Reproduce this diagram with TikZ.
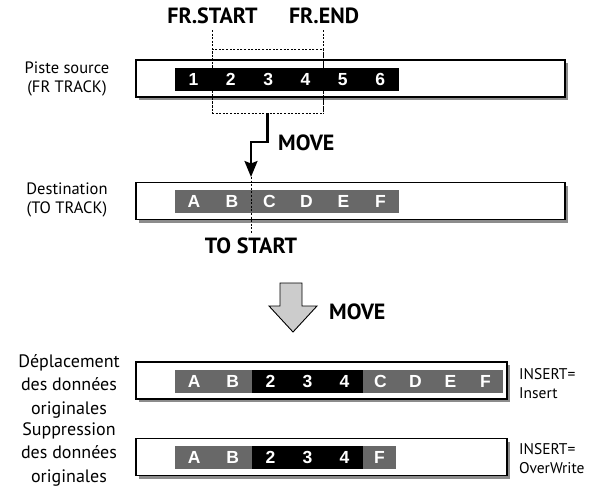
\documentclass[tikz,border=0pt]{standalone}
\usepackage{fontspec}
\setmainfont{PT Sans}
\newfontfamily\cellfont{Liberation Sans}
\usetikzlibrary{shadows,arrows.meta}
\definecolor{bargray}{RGB}{104,104,104}
\definecolor{shadowgray}{RGB}{140,140,140}
\definecolor{blockgray}{RGB}{204,204,204}
\begin{document}
\begin{tikzpicture}[x=1pt,y=-1pt,
  trackbox/.style={draw=black, line width=1.6pt, fill=white, minimum height=37pt,
    inner sep=0pt, outer sep=0pt,
    drop shadow={shadow xshift=3pt, shadow yshift=-3pt, fill=shadowgray, opacity=1}},
  cell/.style={minimum height=23pt, inner sep=0pt, outer sep=0pt, text=white,
    font=\cellfont\bfseries\fontsize{17.5}{17.5}\selectfont},
  blk/.style={cell, fill=black},
  gry/.style={cell, fill=bargray},
  marker/.style={draw=black, line width=0.8pt, dash pattern=on 2pt off 1.6pt},
  movearrow/.style={draw=black, line width=2.2pt,
    -{Stealth[length=16pt, width=13pt, inset=2.5pt]}},
  lbl/.style={align=center, inner sep=0pt, font=\fontsize{16.5}{18.5}\selectfont},
  biglbl/.style={align=center, inner sep=0pt, font=\fontsize{18}{23.5}\selectfont},
  rlbl/.style={align=left, anchor=west, inner sep=0pt, font=\fontsize{15.5}{19}\selectfont},
  key/.style={inner sep=0pt, font=\bfseries\fontsize{22}{22}\selectfont},
]
\useasboundingbox (0,0) rectangle (608,488);

% track frames
\node[trackbox, minimum width=429pt] (src) at (350.5,78.5) {};
\node[trackbox, minimum width=429pt] (dst) at (350.5,201) {};
\node[trackbox, minimum width=371pt] (ins) at (321.5,380.5) {};
\node[trackbox, minimum width=371pt] (ovw) at (321.5,457) {};

% source data blocks
\foreach \n/\a/\b/\t/\s in {1/175/212/1/blk, 2/212/249.5/2/blk, 3/249.5/287/3/blk,
    4/287/324/4/blk, 5/324/361.5/5/blk, 6/361.5/399/6/blk}
  \node[\s, minimum width={(\b-\a)*1pt}] (s\n) at ({(\a+\b)/2},79.5) {\t};

% destination data blocks
\foreach \n/\a/\b/\t/\s in {1/175/213/A/gry, 2/213/251/B/gry, 3/251/288/C/gry,
    4/288/325/D/gry, 5/325/362/E/gry, 6/362/399/F/gry}
  \node[\s, minimum width={(\b-\a)*1pt}] (d\n) at ({(\a+\b)/2},201.5) {\t};

% result with INSERT=Insert
\foreach \n/\a/\b/\t/\s in {1/175/213.5/A/gry, 2/213.5/252/B/gry, 3/252/289/2/blk,
    4/289/326/3/blk, 5/326/363/4/blk, 6/363/398/C/gry, 7/398/433/D/gry,
    8/433/468/E/gry, 9/468/503/F/gry}
  \node[\s, minimum width={(\b-\a)*1pt}] (i\n) at ({(\a+\b)/2},381) {\t};

% result with INSERT=OverWrite
\foreach \n/\a/\b/\t/\s in {1/175/213.5/A/gry, 2/213.5/252/B/gry, 3/252/289/2/blk,
    4/289/326/3/blk, 5/326/363/4/blk, 6/363/396/F/gry}
  \node[\s, minimum width={(\b-\a)*1pt}] (o\n) at ({(\a+\b)/2},457.5) {\t};

% selected range and its markers
\node[marker, minimum width=111pt, minimum height=64pt, inner sep=0pt] (sel) at (267.5,81) {};
\coordinate (frs) at (212,30);
\coordinate (fre) at (323,30);
\draw[marker] (frs) -- (frs |- sel.south);
\draw[marker] (fre) -- (fre |- sel.south);

% move arrow down to the destination start point
\coordinate (bend) at (251,142);
\coordinate (tip) at (251,177);
\coordinate (tsend) at (251,233);
\draw[marker] (tip) -- (tsend);
\draw[movearrow] (sel.south) |- (bend) -- (tip);

% block arrow
\draw[fill=blockgray, line width=0.9pt, line join=miter]
  (280,283) -- (302,283) -- (302,306) -- (317,306) -- (293,332)
  -- (269,306) -- (280,306) -- cycle;

% labels
\node[key] (lfrs) at (212.5,16) {FR.START};
\node[key] (lfre) at (324,16) {FR.END};
\node[key, anchor=west] (lmv1) at (278,143) {MOVE};
\node[key] (lts) at (251,246) {TO START};
\node[key, anchor=west] (lmv2) at (329,312) {MOVE};

\node[lbl] (lsrc) at (67,79) {Piste source\\(FR TRACK)};
\node[lbl] (ldst) at (67,200) {Destination\\(TO TRACK)};
\node[biglbl] (lins) at (69,386) {Déplacement\\des données\\originales};
\node[biglbl] (lovw) at (69,454) {Suppression\\des données\\originales};
\node[rlbl] (rins) at (519,384) {INSERT=\\Insert};
\node[rlbl] (rovw) at (519,459) {INSERT=\\OverWrite};
\end{tikzpicture}
\end{document}
